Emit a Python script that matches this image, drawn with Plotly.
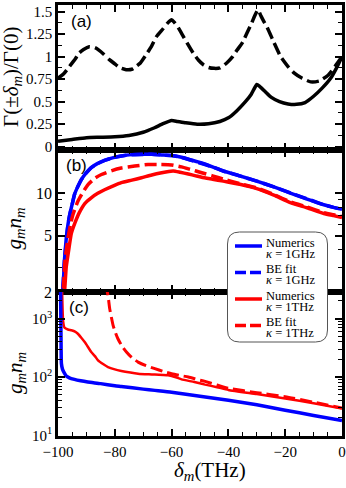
import plotly.graph_objects as go
from plotly.subplots import make_subplots

# ---- panel (a): Gamma(+/-delta_m)/Gamma(0) ----
xa_dash = [-100, -98, -96, -94, -92.6, -91, -89, -87, -85.5, -84, -82, -80, -78.4, -76, -74,
           -72.6, -71, -69, -67, -65.4, -63, -61.5, -60, -59, -58, -56.5, -54.5, -52.4, -50.5,
           -48.8, -47, -45, -43, -40.6, -38.5, -37, -35, -33.5, -32, -30.8, -29.6, -28.5,
           -27.5, -26.4, -24, -21.6, -19, -16.9, -14, -11, -8, -5, -2.5, 0]
ya_dash = [0.76, 0.81, 0.89, 0.97, 1.04, 1.08, 1.11, 1.10, 1.07, 1.03, 0.97, 0.92, 0.88, 0.855,
           0.86, 0.89, 0.93, 1.02, 1.12, 1.22, 1.31, 1.37, 1.41, 1.38, 1.34, 1.26, 1.15, 1.04,
           0.96, 0.91, 0.88, 0.87, 0.875, 0.93, 1.0, 1.07, 1.16, 1.26, 1.36, 1.45, 1.52, 1.45,
           1.39, 1.33, 1.16, 1.0, 0.89, 0.82, 0.76, 0.72, 0.73, 0.79, 0.89, 1.0]

xa_solid = [-100, -95, -90, -85, -80, -75, -70, -66, -63, -60, -58, -55, -51, -47, -43, -40,
            -37, -34, -32, -30, -29, -27, -25, -22, -19, -16, -13, -10, -7, -4, -2, 0]
ya_solid = [0.06, 0.08, 0.10, 0.105, 0.11, 0.125, 0.16, 0.21, 0.255, 0.29, 0.28, 0.265, 0.25,
            0.255, 0.28, 0.32, 0.40, 0.5, 0.58, 0.69, 0.67, 0.61, 0.55, 0.5, 0.475, 0.47, 0.49,
            0.56, 0.65, 0.76, 0.87, 1.0]

# ---- panel (b): g_m n_m ----
xb_blue = [-99.3, -98.3, -97.7, -97.1, -96.5, -95.9, -95, -94.2, -93, -91.8, -90, -88.3, -86,
           -83.6, -80.5, -77.7, -74, -70.6, -67, -63.5, -60, -56.5, -53.5, -49.4, -45.6, -41.8,
           -36, -30, -24, -18.2, -12.3, -6.4, -3, 0]
yb_blue = [1.6, 2.1, 3.4, 4.8, 6.0, 7.0, 8.4, 9.8, 11.2, 12.5, 14.0, 15.2, 16.3, 17.1, 17.9,
           18.4, 18.8, 18.9, 18.9, 18.7, 18.5, 18.0, 17.3, 16.4, 15.4, 14.4, 13.3, 12.2, 11.1,
           10.05, 9.1, 8.3, 7.95, 7.7]

xb_red_fit = [-98.6, -98.0, -97.5, -96.5, -95.6, -94.8, -93, -91.2, -89.5, -87, -84.7, -81,
              -77.7, -73, -68.3, -64, -60, -56.5, -53.5, -49.4, -45.6, -41.8, -36, -30, -24,
              -18.2, -12.3, -6.4, -3, 0]
yb_red_fit = [1.6, 2.3, 3.4, 4.8, 6.0, 7.0, 8.8, 10.2, 11.5, 12.8, 13.6, 14.5, 15.1, 15.6, 16.0,
              16.0, 15.9, 15.4, 14.8, 14.0, 13.3, 12.6, 11.7, 10.9, 9.8, 8.7, 8.0, 7.3, 7.05, 6.85]

xb_red = [-98.2, -97.7, -97.1, -96.2, -95.3, -94, -92.5, -90.5, -88.3, -86, -83.6, -80.5, -77.7,
          -74, -70.6, -67, -63.5, -61, -59.4, -57, -54.1, -51.5, -49.4, -45.6, -41.8, -36, -30,
          -24, -18.2, -12.3, -6.4, -3, 0]
yb_red = [1.6, 2.0, 3.0, 4.0, 5.2, 6.2, 7.3, 8.5, 9.3, 10.0, 10.6, 11.3, 11.9, 12.4, 12.9, 13.5,
          14.0, 14.3, 14.4, 14.1, 13.7, 13.3, 13.0, 12.6, 12.2, 11.6, 10.8, 9.7, 8.6, 7.9, 7.2,
          6.95, 6.75]

# ---- panel (c): g_m n_m, wide log range ----
xc_blue = [-99.1, -99.0, -98.9, -98.8, -98.4, -97.8, -97.1, -96, -94.2, -92, -89.5, -85, -80,
           -77.7, -70, -65.9, -60, -50, -40, -30, -20, -10, 0]
yc_blue = [3500, 1000, 300, 170, 135, 118, 104, 97, 91, 86, 82, 77, 71, 69, 62, 59, 55, 47, 40,
           33.5, 27, 22, 18]

xc_red = [-98.6, -98.4, -98.2, -97.9, -97.7, -96.5, -95.3, -94, -93, -91.8, -90.6, -89.5,
          -88.3, -87, -85.9, -84, -82.4, -80, -77.7, -74.5, -71.8, -68, -65.9, -63, -61.2,
          -58.5, -56.5, -52, -48.2, -44, -40, -30, -20, -10, 0]
yc_red = [3500, 1500, 900, 740, 700, 650, 630, 600, 550, 470, 396, 330, 268, 228, 193, 165, 148,
          135, 127, 119, 114, 111, 110, 108.5, 107, 99, 91, 82, 74, 67, 60, 51, 43, 35.5, 29]

xc_red_fit = [-83.3, -82.4, -81.8, -81.2, -80.6, -79.8, -78.9, -77.5, -75.9, -74, -71.8, -69,
              -65.9, -63, -60, -57, -54.1, -51, -48.2, -44, -40, -30, -20, -10, 0]
yc_red_fit = [4000, 2500, 1480, 1050, 765, 580, 452, 340, 268, 215, 180, 156, 139, 125, 114,
              106, 100, 91, 84, 73, 64, 54, 46, 37, 29.5]

legend_names = ["Numerics", "BE fit", "Numerics", "BE fit"]
legend_kappa = ["κ = 1GHz", "κ = 1GHz", "κ = 1THz", "κ = 1THz"]

BLUE = "#0000ff"
RED = "#ff0000"
DASH = "12px,5px"
SERIF = "Liberation Serif"

fig = make_subplots(rows=3, cols=1, shared_xaxes=True, vertical_spacing=0)

fig.add_trace(go.Scatter(x=xa_dash, y=ya_dash, mode="lines", showlegend=False,
                         line=dict(color="black", width=3.5, dash=DASH, shape="spline", smoothing=0.5)),
              row=1, col=1)
fig.add_trace(go.Scatter(x=xa_solid, y=ya_solid, mode="lines", showlegend=False,
                         line=dict(color="black", width=3.5, shape="spline", smoothing=0.5)),
              row=1, col=1)

# panel b  (BE fit for kappa = 1GHz sits right on top of the numerics)
fig.add_trace(go.Scatter(x=xb_blue, y=yb_blue, mode="lines", name="BE fit, κ = 1GHz",
                         line=dict(color=BLUE, width=3.5, dash=DASH)), row=2, col=1)
fig.add_trace(go.Scatter(x=xb_blue, y=yb_blue, mode="lines", name="Numerics, κ = 1GHz",
                         line=dict(color=BLUE, width=3.5, shape="spline", smoothing=0.5)),
              row=2, col=1)
fig.add_trace(go.Scatter(x=xb_red, y=yb_red, mode="lines", name="Numerics, κ = 1THz",
                         line=dict(color=RED, width=3.5, shape="spline", smoothing=0.5)),
              row=2, col=1)
fig.add_trace(go.Scatter(x=xb_red_fit, y=yb_red_fit, mode="lines", name="BE fit, κ = 1THz",
                         line=dict(color=RED, width=3.5, dash=DASH, shape="spline", smoothing=0.5)),
              row=2, col=1)

# panel c
fig.add_trace(go.Scatter(x=xc_red_fit, y=yc_red_fit, mode="lines", name="BE fit, κ = 1THz",
                         line=dict(color=RED, width=3, dash=DASH, shape="spline", smoothing=0.5)),
              row=3, col=1)
fig.add_trace(go.Scatter(x=xc_red, y=yc_red, mode="lines", name="Numerics, κ = 1THz",
                         line=dict(color=RED, width=2.5, shape="spline", smoothing=0.5)),
              row=3, col=1)
fig.add_trace(go.Scatter(x=xc_blue, y=yc_blue, mode="lines", name="Numerics, κ = 1GHz",
                         line=dict(color=BLUE, width=3.5, shape="spline", smoothing=0.5)),
              row=3, col=1)

axis_style = dict(showline=True, linecolor="black", linewidth=2.5, mirror="allticks",
                  ticks="inside", ticklen=7, tickwidth=1.5, tickcolor="black",
                  showgrid=False, zeroline=False, automargin=False,
                  tickfont=dict(family=SERIF, size=15, color="black"))
minor_style = dict(ticks="inside", ticklen=4, tickwidth=1.2, tickcolor="black", showgrid=False)

for r in (1, 2, 3):
    fig.update_xaxes(axis_style, range=[-100, 0], tick0=0, dtick=20,
                     minor=dict(minor_style, tick0=0, dtick=5),
                     showticklabels=(r == 3), row=r, col=1)

fig.update_yaxes(axis_style, range=[-0.037, 1.574], domain=[0.6636, 1.0],
                 tickvals=[0, 0.25, 0.5, 0.75, 1, 1.25, 1.5],
                 ticktext=["0", "0.25", "0.5", "0.75", "1", "1.25", "1.5"],
                 minor=dict(minor_style, tickmode="linear", tick0=0, dtick=0.125),
                 row=1, col=1)
fig.update_yaxes(axis_style, type="log", range=[0.301, 1.307], domain=[0.3341, 0.6636],
                 tickvals=[2, 5, 10], ticktext=["2", "5", "10"],
                 tickfont=dict(family=SERIF, size=16, color="black"),
                 minor=dict(minor_style, tickvals=[3, 4, 6, 7, 8, 9, 20]),
                 row=2, col=1)
fig.update_yaxes(axis_style, type="log", range=[0.99, 3.455], domain=[0.0, 0.3341],
                 tickvals=[10, 100, 1000],
                 ticktext=["10<sup>1</sup>", "10<sup>2</sup>", "10<sup>3</sup>"],
                 minor=dict(minor_style, tickvals=[20, 30, 40, 50, 60, 70, 80, 90,
                                                   200, 300, 400, 500, 600, 700, 800, 900, 2000]),
                 row=3, col=1)

W, H = 346, 488
L, R, T, B = 58, 4, 5, 52
pw, ph = W - L - R, H - T - B


def px(x):
    return (x - L) / pw


def py(y):
    return (H - B - y) / ph


# rounded legend frame
x0, x1 = px(227.5), px(327.5)
y0, y1 = py(342), py(232)
rx, ry = 12 / pw, 12 / ph
path = (f"M {x0 + rx},{y1} L {x1 - rx},{y1} Q {x1},{y1} {x1},{y1 - ry} "
        f"L {x1},{y0 + ry} Q {x1},{y0} {x1 - rx},{y0} L {x0 + rx},{y0} "
        f"Q {x0},{y0} {x0},{y0 + ry} L {x0},{y1 - ry} Q {x0},{y1} {x0 + rx},{y1} Z")
fig.add_shape(type="path", path=path, xref="paper", yref="paper", layer="above",
              fillcolor="white", line=dict(color="#555555", width=1))

# legend entries: key line + two-line label, 26.5px apart.
# small base font sets the tight line pitch, spans carry the visible glyph size
key_cols = [BLUE, BLUE, RED, RED]
key_dash = ["solid", "11px,4px", "solid", "11px,4px"]
span = '<span style="font-size:12.5px">{}</span>'
for i in range(4):
    yk = 246 + 26.5 * i
    fig.add_shape(type="line", xref="paper", yref="paper", layer="above",
                  x0=px(235), x1=px(262), y0=py(yk), y1=py(yk),
                  line=dict(color=key_cols[i], width=3.5, dash=key_dash[i]))
    txt = (span.format(legend_names[i]) + "<br>"
           + span.format(legend_kappa[i].replace("κ", "<i>κ</i>")))
    fig.add_annotation(x=px(264), y=py(yk + 2), xref="paper", yref="paper",
                       text=txt, showarrow=False, xanchor="left", yanchor="middle",
                       align="left", font=dict(family=SERIF, size=8.5, color="black"))

title_font = dict(family=SERIF, size=21, color="black")
annos = [
    dict(x=px(12), y=py(77), text="Γ(±<i>δ</i><sub><i>m</i></sub>)/Γ(0)", textangle=-90),
    dict(x=px(14.5), y=py(229), text="<i>g</i><sub><i>m</i></sub><i>n</i><sub><i>m</i></sub>", textangle=-90),
    dict(x=px(16), y=py(373), text="<i>g</i><sub><i>m</i></sub><i>n</i><sub><i>m</i></sub>", textangle=-90),
    dict(x=px(210), y=py(471), text="<i>δ</i><sub><i>m</i></sub>(THz)", textangle=0),
]
for a in annos:
    fig.add_annotation(a, xref="paper", yref="paper", showarrow=False, font=title_font,
                       xanchor="center", yanchor="middle")

for lab, cx, cy in [("(a)", 81, 22), ("(b)", 76.5, 165), ("(c)", 79, 307)]:
    fig.add_annotation(x=px(cx), y=py(cy), xref="paper", yref="paper", text=lab,
                       showarrow=False, xanchor="center", yanchor="middle",
                       font=dict(family="Liberation Sans", size=17, color="black"))

fig.update_layout(
    width=W, height=H,
    margin=dict(l=L, r=R, t=T, b=B, autoexpand=False),
    paper_bgcolor="white", plot_bgcolor="white",
    showlegend=False,
)

# page body has a default 8px margin; drop it so the figure sits at the window origin
fig.write_html("out.html", config={"displayModeBar": False},
               post_script="document.body.style.margin='0';")
